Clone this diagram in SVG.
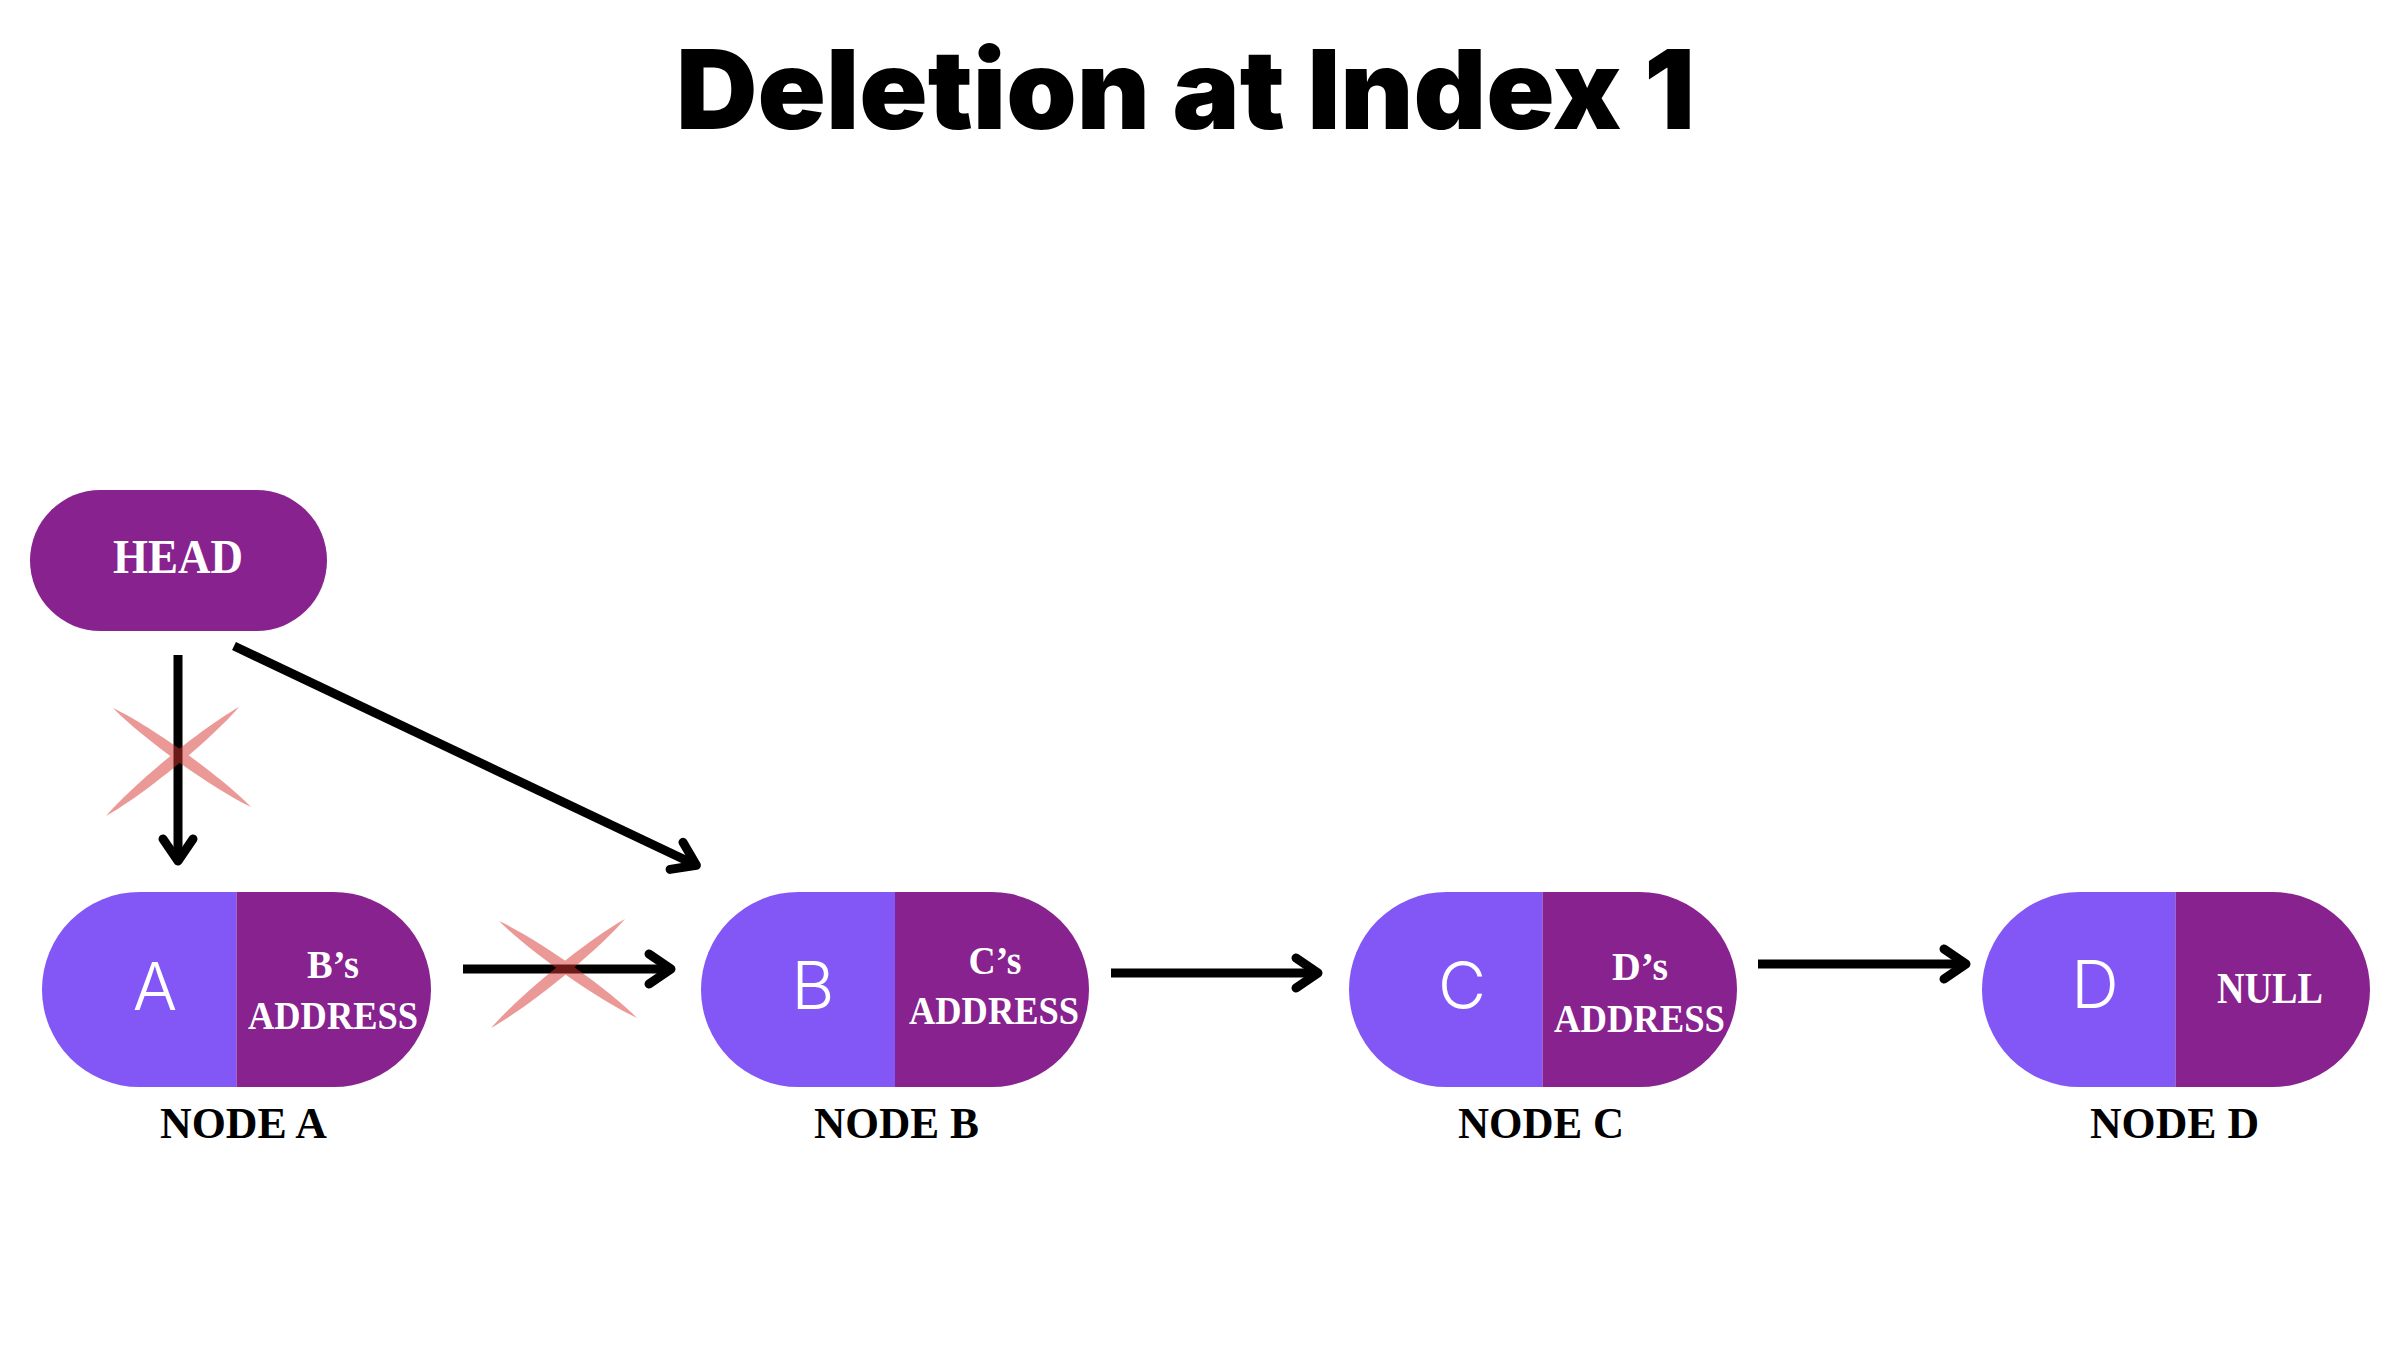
<svg xmlns="http://www.w3.org/2000/svg" width="2398" height="1352" viewBox="0 0 2398 1352">
  <style>
    .light { fill: #8357F5; }
    .dark { fill: #87228F; }
    .title { font-family: Inter, "Liberation Sans", sans-serif; font-weight: 900; font-size: 110px; fill: #000; }
    .letter { font-family: Inter, "Liberation Sans", sans-serif; font-weight: 300; font-size: 66px; fill: #fff; text-anchor: middle; }
    .ptr { font-family: "Liberation Serif", "DejaVu Serif", serif; font-weight: bold; fill: #fff; }
    .lbl { font-family: "Liberation Serif", "DejaVu Serif", serif; font-weight: bold; font-size: 45px; fill: #000; }
    .conn { stroke: #000; stroke-width: 9; fill: none; marker-end: url(#ah); }
    .cross { fill: #D8352F; }
  </style>
  <defs>
    <marker id="ah" markerUnits="userSpaceOnUse" viewBox="-30 -22 40 44" refX="0" refY="0" markerWidth="40" markerHeight="44" orient="auto" overflow="visible">
      <path d="M-22,-15 L0,0 L-22,15" fill="none" stroke="#000" stroke-width="9" stroke-linecap="round" stroke-linejoin="round"/>
    </marker>
  </defs>
  <rect width="2398" height="1352" fill="#fff"/>

  <text class="title" x="676" y="129" textLength="1019" lengthAdjust="spacingAndGlyphs">Deletion at Index 1</text>

  <g id="head">
    <rect class="dark" x="30" y="490" width="297" height="141" rx="70.5"/>
    <text class="ptr" x="113" y="573" font-size="48" textLength="130" lengthAdjust="spacingAndGlyphs">HEAD</text>
  </g>

  <g id="node-a">
    <path class="light" d="M139.5,892 H236.5 V1087 H139.5 A97.5,97.5 0 0 1 139.5,892 Z"/>
    <path class="dark" d="M236.5,892 H333.5 A97.5,97.5 0 0 1 333.5,1087 H236.5 Z"/>
    <text class="letter" x="155" y="1010">A</text>
    <text class="ptr" x="307" y="978" font-size="40" textLength="52" lengthAdjust="spacingAndGlyphs">B’s</text>
    <text class="ptr" x="248" y="1029" font-size="39" textLength="170" lengthAdjust="spacingAndGlyphs">ADDRESS</text>
    <text class="lbl" x="160" y="1138" textLength="167" lengthAdjust="spacingAndGlyphs">NODE A</text>
  </g>

  <g id="node-b">
    <path class="light" d="M798.5,892 H895 V1087 H798.5 A97.5,97.5 0 0 1 798.5,892 Z"/>
    <path class="dark" d="M895,892 H991.5 A97.5,97.5 0 0 1 991.5,1087 H895 Z"/>
    <text class="letter" x="813" y="1009">B</text>
    <text class="ptr" x="968.5" y="974" font-size="40" textLength="53" lengthAdjust="spacingAndGlyphs">C’s</text>
    <text class="ptr" x="909" y="1024" font-size="39" textLength="170" lengthAdjust="spacingAndGlyphs">ADDRESS</text>
    <text class="lbl" x="814" y="1138" textLength="165" lengthAdjust="spacingAndGlyphs">NODE B</text>
  </g>

  <g id="node-c">
    <path class="light" d="M1446.5,892 H1542.5 V1087 H1446.5 A97.5,97.5 0 0 1 1446.5,892 Z"/>
    <path class="dark" d="M1542.5,892 H1639.5 A97.5,97.5 0 0 1 1639.5,1087 H1542.5 Z"/>
    <text class="letter" x="1462" y="1009">C</text>
    <text class="ptr" x="1612" y="980" font-size="40" textLength="56" lengthAdjust="spacingAndGlyphs">D’s</text>
    <text class="ptr" x="1554" y="1032" font-size="39" textLength="171" lengthAdjust="spacingAndGlyphs">ADDRESS</text>
    <text class="lbl" x="1458" y="1138" textLength="166" lengthAdjust="spacingAndGlyphs">NODE C</text>
  </g>

  <g id="node-d">
    <path class="light" d="M2079.5,892 H2175.5 V1087 H2079.5 A97.5,97.5 0 0 1 2079.5,892 Z"/>
    <path class="dark" d="M2175.5,892 H2272.5 A97.5,97.5 0 0 1 2272.5,1087 H2175.5 Z"/>
    <text class="letter" x="2095" y="1008">D</text>
    <text class="ptr" x="2217" y="1003" font-size="44" textLength="106" lengthAdjust="spacingAndGlyphs">NULL</text>
    <text class="lbl" x="2090" y="1138" textLength="169" lengthAdjust="spacingAndGlyphs">NODE D</text>
  </g>

  <g id="connectors">
    <line class="conn" x1="178" y1="655" x2="178" y2="861"/>
    <line class="conn" x1="234" y1="646" x2="696.4" y2="865.3"/>
    <line class="conn" x1="463" y1="969" x2="671" y2="969"/>
    <line class="conn" x1="1111" y1="973" x2="1318" y2="973"/>
    <line class="conn" x1="1758" y1="964" x2="1966" y2="964"/>
  </g>

  <g id="cross-marks" opacity="0.5">
    <g class="cross">
      <path d="M113,708 C143.1,738.9 212.1,788.4 251,807 C220.9,776.2 151.9,726.6 113,708Z"/>
      <path d="M239,707 C201.0,728.5 134.5,783.0 106,816 C144.0,794.6 210.5,740.1 239,707Z"/>
    </g>
    <g class="cross">
      <path d="M499,921 C529.2,951.4 598.2,999.9 637,1018 C606.8,987.6 537.8,939.1 499,921Z"/>
      <path d="M625,919 C586.8,940.4 519.8,994.9 491,1028 C529.2,1006.6 596.2,952.1 625,919Z"/>
    </g>
  </g>
</svg>
